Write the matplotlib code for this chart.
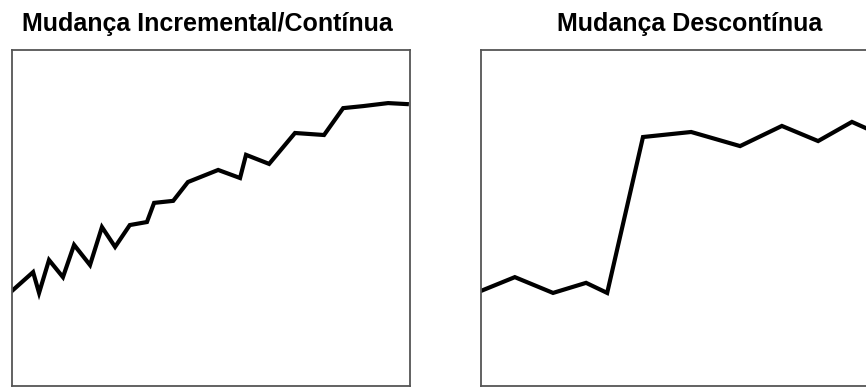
import numpy as np
import matplotlib
matplotlib.use('Agg')
import matplotlib.pyplot as plt

#Incremental / continuous change (time, level)
x_inc = [0, 5.3, 6.8, 9.3, 12.8, 15.6, 19.6, 22.6, 25.9, 29.6, 33.9, 35.7,
         40.5, 44.2, 51.8, 57.3, 58.8, 64.6, 71.1, 78.4, 83.2, 88.2, 94.5, 99.2]
y_inc = [28.3, 33.9, 27.7, 37.5, 32.4, 42.0, 36.0, 47.3, 41.4, 47.9, 48.8, 54.5,
         55.1, 60.7, 64.3, 61.9, 68.8, 66.1, 75.3, 74.7, 82.7, 83.3, 84.2, 83.9]

#Discontinuous change
x_dis = [0, 8.5, 18.1, 26.4, 31.7, 40.7, 52.8, 65.1, 75.6, 84.7, 93.2, 100]
y_dis = [28.3, 32.4, 27.7, 30.7, 27.7, 74.1, 75.6, 71.4, 77.4, 72.9, 78.6, 75.0]

titles = ['Mudança Incremental/Contínua', 'Mudança Descontínua']

W, H = 866, 388
fig = plt.figure(figsize=(W/100, H/100), dpi=100)

#axes boxes in pixels (left, bottom, width, height)
boxes = [(12, 2, 398, 336), (481, 2, 398, 336)]
title_x = [207, 690]
series = [(x_inc, y_inc), (x_dis, y_dis)]

for box, (xs, ys), t, tx in zip(boxes, series, titles, title_x):
    l, b, w, h = box
    ax = fig.add_axes([l/W, b/H, w/W, h/H])
    ax.plot(xs, ys, color='black', lw=3.0, solid_joinstyle='miter')
    ax.set_xlim(0, 100)
    ax.set_ylim(0, 100)
    ax.set_xticks([])
    ax.set_yticks([])
    for s in ax.spines.values():
        s.set_color('#555555')
        s.set_linewidth(1.3)
    fig.text(tx/W, (H-31.5)/H, t, ha='center', va='baseline',
             fontsize=18, fontweight='bold', family='Liberation Sans')

plt.savefig('out.png', dpi=100)
